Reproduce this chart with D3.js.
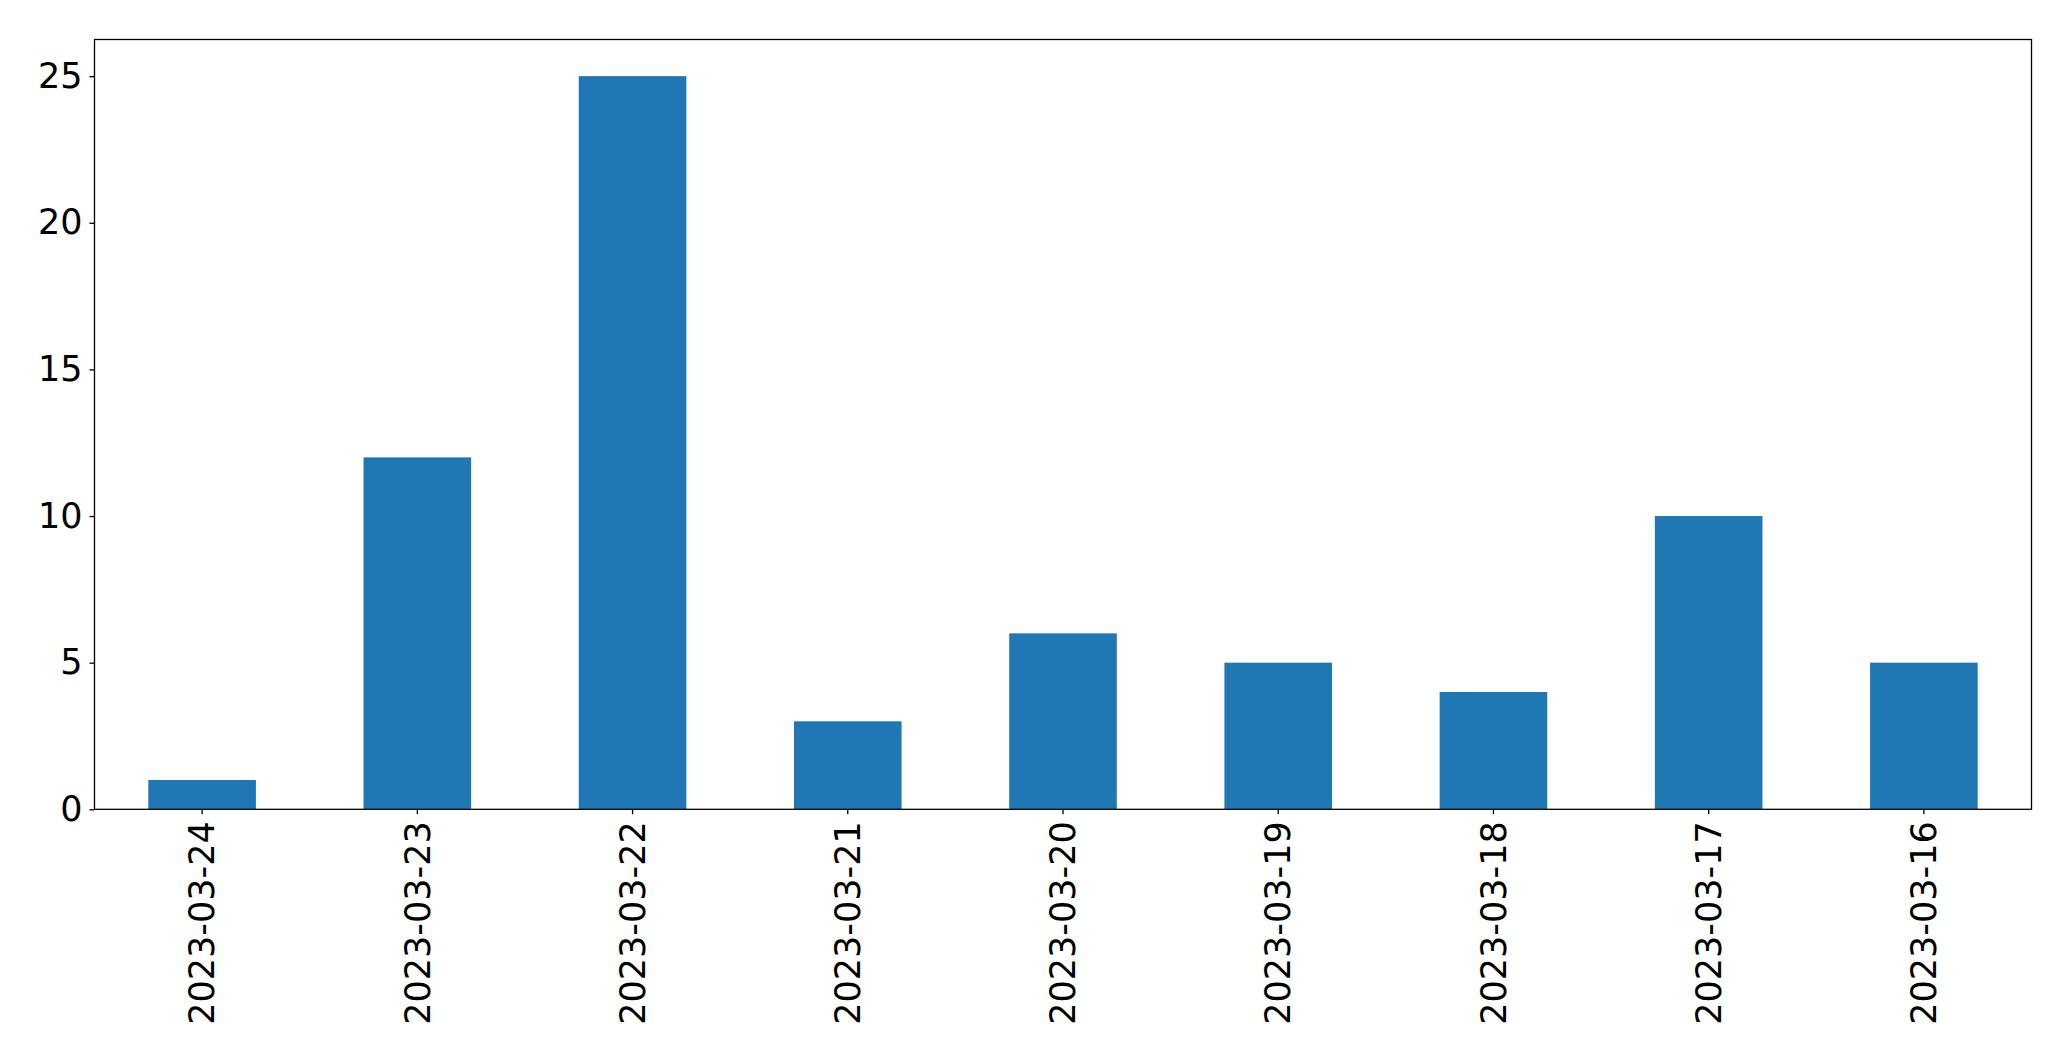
<!DOCTYPE html>
<html>
<head>
<meta charset="utf-8">
<script src="https://cdn.jsdelivr.net/npm/d3@7"></script>
<style>
  html, body { margin: 0; padding: 0; background: #fff; }
  svg { display: block; }
</style>
</head>
<body>
<script>
const categories = ["2023-03-24","2023-03-23","2023-03-22","2023-03-21","2023-03-20","2023-03-19","2023-03-18","2023-03-17","2023-03-16"];
const values = [1, 12, 25, 3, 6, 5, 4, 10, 5];
const yTicks = [0, 5, 10, 15, 20, 25];

(function () {
const W = 2071, H = 1061;
const mLeft = 94.5, mRight = 2031.5, mTop = 39.5, mBottom = 809.3;
const fontSize = 35;

const svg = d3.select("body").append("svg").attr("width", W).attr("height", H);

const x = d3.scaleBand().domain(categories).range([mLeft, mRight]).paddingInner(0.5).paddingOuter(0.25);
const y = d3.scaleLinear().domain([0, d3.max(values) * 1.05]).range([mBottom, mTop]);

svg.append("g").selectAll("rect").data(values).join("rect")
  .attr("x", (d, i) => x(categories[i]))
  .attr("width", x.bandwidth())
  .attr("y", d => y(d))
  .attr("height", d => y(0) - y(d))
  .attr("fill", "#1f77b4");

// Y axis
const yAxis = svg.append("g").attr("transform", `translate(${mLeft},0)`)
  .call(d3.axisLeft(y).tickValues(yTicks).tickSize(5).tickPadding(7).tickFormat(d3.format("d")));
yAxis.select(".domain").remove();
yAxis.selectAll("line").attr("stroke", "#000").attr("stroke-width", 1.3);
yAxis.selectAll("text").attr("font-family", "DejaVu Sans").attr("font-size", fontSize).attr("fill", "#000");

// X axis
const xAxis = svg.append("g").attr("transform", `translate(0,${mBottom})`)
  .call(d3.axisBottom(x).tickSize(5).tickPadding(0));
xAxis.select(".domain").remove();
xAxis.selectAll("line").attr("stroke", "#000").attr("stroke-width", 1.3);
xAxis.selectAll("text")
  .attr("font-family", "DejaVu Sans").attr("font-size", fontSize).attr("fill", "#000")
  .attr("text-anchor", "end")
  .attr("transform", "translate(0,12) rotate(-90)")
  .attr("x", 0).attr("y", 0).attr("dy", "0.35em");

// Frame
svg.append("rect")
  .attr("x", mLeft).attr("y", mTop)
  .attr("width", mRight - mLeft).attr("height", mBottom - mTop)
  .attr("fill", "none").attr("stroke", "#000").attr("stroke-width", 1.3);
})();
</script>
</body>
</html>
